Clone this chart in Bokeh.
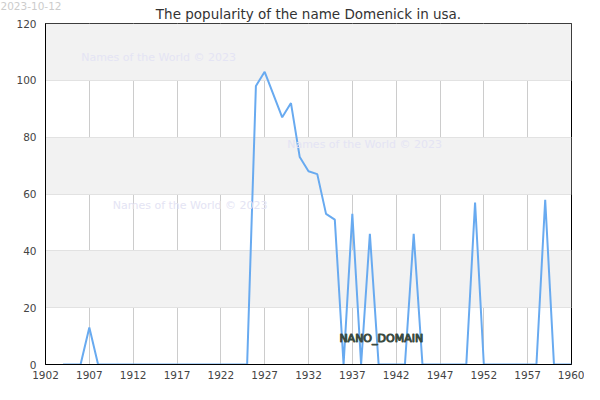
from bokeh.plotting import figure
from bokeh.models import Range1d, FixedTicker, Label, Title
from bokeh.embed import file_html
from bokeh.resources import INLINE

years = list(range(1904, 1963))
counts = [0, 0, 0, 13, 0,            # 1904-1908
          0, 0, 0, 0, 0, 0, 0, 0, 0, 0,  # 1909-1918
          0, 0, 0, 0, 0, 0, 0,        # 1919-1925
          98, 103, 95, 87, 92, 73, 68, 67, 53, 51,  # 1926-1935
          0, 53, 0, 46, 0, 0, 0, 0, 46, 0,          # 1936-1945
          0, 0, 0, 0, 0, 57, 0, 0, 0, 0,            # 1946-1955
          0, 0, 0, 58, 0, 0, 0]                     # 1956-1962

x_ticks = [1902, 1907, 1912, 1917, 1922, 1927, 1932, 1937, 1942, 1947, 1952, 1957, 1962]
x_tick_labels = {1962: "1960"}
y_ticks = [0, 20, 40, 60, 80, 100, 120]

title_text = "The popularity of the name Domenick in usa."
date_text = "2023-10-12"
watermark = "Names of the World \u00a9 2023"
watermark_pos = [(1914.9, 107.9), (1938.4, 77.5), (1918.5, 56.0)]
brand_text = "NANO_DOMAIN"

FONT = "DejaVu Sans"

p = figure(width=584, height=384, output_backend="svg", toolbar_location=None,
           x_range=Range1d(1902, 1962), y_range=Range1d(0, 120),
           min_border_left=45, min_border_right=13, min_border_top=23,
           min_border_bottom=20)

# outer header row: the date (top-left corner)
p.title.text = date_text
p.title.align = "left"
p.title.offset = -45
p.title.standoff = -16.5
p.title.text_font = FONT
p.title.text_font_size = "10.5px"
p.title.text_font_style = "normal"
p.title.text_color = "#cccccc"

# inner header row: the chart title
main_title = Title(text=title_text, align="center", offset=-12, standoff=4,
                   text_font=FONT, text_font_size="13.5px",
                   text_font_style="normal", text_color="#333333")
p.add_layout(main_title, "above")

p.outline_line_color = "black"
p.outline_line_alpha = 1.0
p.outline_line_width = 1

for ax in (p.xaxis[0], p.yaxis[0]):
    ax.axis_line_color = "black"
    ax.major_tick_line_color = None
    ax.minor_tick_line_color = None
    ax.major_tick_out = 0
    ax.major_tick_in = 0
    ax.minor_tick_out = 0
    ax.major_label_text_font = FONT
    ax.major_label_text_font_size = "10.5px"
    ax.major_label_text_color = "#444444"

p.xaxis.ticker = FixedTicker(ticks=x_ticks)
p.xaxis.major_label_overrides = x_tick_labels
p.xaxis.major_label_standoff = 6
p.yaxis.ticker = FixedTicker(ticks=y_ticks)
p.yaxis.major_label_standoff = 9

p.xgrid.ticker = FixedTicker(ticks=x_ticks)
p.xgrid.grid_line_color = "#cccccc"
p.ygrid.ticker = FixedTicker(ticks=y_ticks)
p.ygrid.grid_line_color = "#e2e2e2"
p.ygrid.band_fill_color = "#f2f2f2"
p.ygrid.band_fill_alpha = 1.0

for (wx, wy) in watermark_pos:
    p.add_layout(Label(x=wx, y=wy, text=watermark, text_align="center",
                       text_baseline="middle", text_font=FONT,
                       text_font_size="11px", text_color="#e4e4f4"))

p.line(years, counts, line_color="#68aaf0", line_width=2)

p.add_layout(Label(x=1940.3, y=9.3, text=brand_text, text_align="center",
                   text_baseline="middle", text_font=FONT, text_font_size="11px",
                   text_color="#1e2e24", text_outline_color="#3c4c42"))

open("out.html", "w").write(file_html(p, INLINE))
